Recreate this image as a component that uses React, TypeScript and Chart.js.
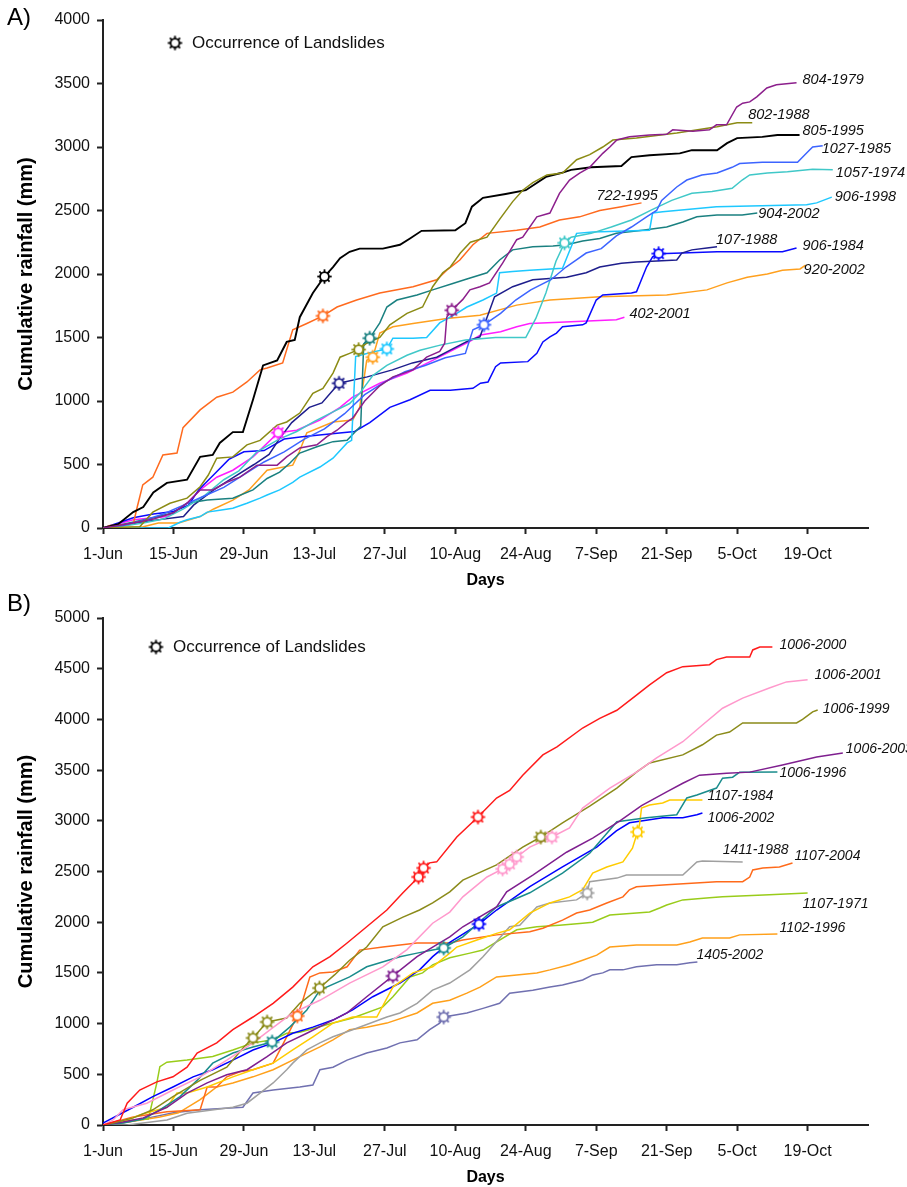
import React, { useEffect, useRef } from 'react';
import { Chart, registerables } from 'chart.js';
Chart.register(...registerables);

// ---------- axis ticks ----------
const tickDays = [0, 14, 28, 42, 56, 70, 84, 98, 112, 126, 140];
const tickLabels = ['1-Jun', '15-Jun', '29-Jun', '13-Jul', '27-Jul', '10-Aug', '24-Aug', '7-Sep', '21-Sep', '5-Oct', '19-Oct'];

// ---------- Panel A data: [day since 1-Jun, cumulative mm] ----------
const a805_1995 = [[0,0],[3,30],[6,125],[8,165],[10,280],[12.7,355],[16.7,380],[19.3,560],[21.8,575],[23.2,670],[25.8,755],[27.8,755],[29.8,1010],[31.8,1280],[34.6,1320],[36.5,1465],[38.1,1480],[39.1,1660],[41.7,1850],[44,1980],[45.7,2055],[47.1,2125],[49,2175],[51,2200],[55.6,2200],[59,2230],[61,2280],[63.3,2340],[70,2345],[72,2400],[73.3,2530],[75.5,2600],[80,2630],[84,2660],[88,2765],[91,2795],[93,2820],[97,2840],[103,2850],[105,2920],[108.6,2935],[114.6,2950],[117,2975],[122,2975],[124,3030],[126,3070],[131,3080],[134,3095],[138.4,3095]];
const a722_1995 = [[0,0],[1.4,20],[6,30],[6.8,165],[7.9,340],[9.9,400],[11.9,575],[14.7,590],[15.9,790],[19.3,930],[22.6,1030],[25.8,1070],[28.6,1150],[31.2,1245],[32.6,1260],[35.7,1300],[37.7,1560],[40.5,1610],[43.7,1670],[46.5,1740],[50.4,1795],[55,1850],[61.6,1900],[66.3,1955],[68.3,2030],[70.9,2110],[73.5,2230],[76.3,2320],[82.2,2345],[86.8,2370],[90.7,2425],[94.7,2450],[98.7,2500],[103,2530],[107,2560]];
const a802_1988 = [[0,0],[7.3,10],[9.9,125],[13.3,195],[16.7,235],[19.3,325],[20.9,415],[22.6,550],[25.8,560],[28.6,655],[31.2,690],[34.6,810],[36.5,835],[39.1,905],[41.7,1060],[43.7,1100],[45.7,1220],[47.1,1345],[49,1375],[50.8,1405],[52.4,1455],[55,1500],[57,1600],[60.4,1690],[63.5,1740],[65.5,1900],[67.5,2010],[69,2055],[71,2165],[73,2250],[76.3,2290],[78.8,2430],[81.4,2570],[83.4,2660],[85.4,2720],[88.2,2780],[91.3,2795],[94.1,2900],[96.7,2940],[99.3,3000],[101.3,3055],[106,3070],[114,3110],[122,3160],[126,3190],[129,3190]];
const a804_1979 = [[0,0],[3,20],[6,40],[10,70],[14,120],[16.7,195],[19.3,300],[21.8,300],[24.6,360],[27.2,400],[30.6,495],[34.6,495],[36.5,560],[39.1,630],[42.5,655],[44.5,720],[46.5,770],[48.5,835],[49.6,865],[52,1000],[55,1120],[57.6,1190],[61.6,1245],[64.3,1345],[66.9,1390],[67.9,1455],[68.3,1660],[69.3,1715],[71.5,1800],[72.9,1875],[74.9,1900],[76.8,1930],[79.4,2085],[82.2,2270],[83.4,2290],[86.2,2450],[88.8,2480],[90.7,2635],[92.7,2740],[94.7,2795],[96.7,2840],[99.3,2950],[100.7,3000],[102.1,3055],[104.6,3080],[108.6,3095],[112,3100],[113.2,3135],[117.2,3125],[120.5,3135],[121.9,3175],[123.9,3175],[125.9,3315],[127.1,3345],[128.5,3355],[129.9,3395],[131.9,3465],[133.8,3490],[137.8,3505]];
const a904_2002 = [[0,0],[4,30],[10,80],[14,120],[16.7,195],[20.7,220],[25.8,235],[29.8,300],[32.6,390],[35.1,440],[37.1,510],[39.1,590],[42.5,640],[45.7,680],[48.5,690],[50.4,770],[51.2,800],[51.8,1450],[53,1495],[55,1615],[56.4,1740],[58.4,1795],[62.4,1835],[65.5,1875],[69.5,1925],[72.3,1960],[76.3,2010],[78.8,2110],[81.4,2190],[85.4,2215],[89.4,2220],[92.1,2230],[95.3,2260],[98.7,2280],[102,2320],[107.2,2345],[112,2370],[115.2,2410],[118,2450],[122,2465],[127,2465],[130,2480]];
const a906_1998 = [[0,0],[13,0],[15.3,45],[16.7,65],[19.3,90],[20.7,125],[23.2,140],[25.8,155],[28.6,195],[31.2,235],[32.6,260],[35.1,300],[37.7,360],[39.1,400],[43.1,480],[45.7,550],[48.5,670],[49.4,690],[50.2,1350],[53,1380],[56.4,1410],[57.6,1495],[61.6,1495],[64.3,1500],[66.9,1615],[70.3,1690],[72.3,1740],[75.5,1795],[78.2,1850],[78.8,2010],[81.4,2020],[84.8,2030],[91.3,2045],[94.1,2320],[97.3,2330],[108.6,2345],[109.2,2480],[111.2,2490],[121.9,2530],[139.8,2545],[141.8,2560],[144.8,2605]];
const a1057_1974 = [[0,0],[4,15],[8,40],[12,70],[16,150],[20,250],[24,380],[27,450],[30.6,600],[35,700],[38.5,760],[42,840],[46,920],[49,980],[51,1060],[53.6,1200],[56.4,1280],[60.4,1360],[63,1400],[67,1440],[72,1480],[78,1500],[84,1500],[86,1650],[88,1850],[90,2100],[91.7,2245],[93,2290],[97,2320],[101,2370],[105,2425],[109,2505],[113,2580],[117,2635],[121,2650],[125,2675],[127,2740],[128.5,2780],[132,2795],[136,2805],[141,2825],[145,2820]];
const a1027_1985 = [[0,0],[4,20],[8,60],[12,110],[16,180],[20,250],[24,320],[28,420],[32,520],[36,600],[40,700],[44,780],[48,900],[52,1050],[56,1150],[60,1230],[64,1280],[68,1340],[72,1375],[73.5,1560],[75.7,1600],[79,1690],[82,1795],[85,1875],[89,1955],[92,2055],[94,2110],[96,2165],[99,2200],[102,2300],[105,2370],[108,2450],[110,2500],[111,2580],[114,2685],[116,2740],[119,2780],[122,2795],[125,2840],[126.5,2870],[131,2880],[138,2880],[140,2960],[141,3000],[143,3010]];
const a906_1984 = [[0,0],[3,40],[6,80],[10,110],[14,130],[17,180],[19,300],[22,420],[25,540],[28,600],[32,610],[36,700],[40,720],[45,740],[50,760],[53,830],[57,950],[61,1010],[65,1085],[69,1085],[73.5,1100],[75,1140],[76.5,1150],[78,1270],[79,1300],[84.4,1310],[86.2,1375],[87.4,1465],[88.8,1505],[90.1,1535],[91.3,1585],[95.3,1600],[96,1615],[98,1795],[99.3,1835],[105,1850],[106,1860],[108,2055],[109.2,2135],[110.4,2160],[115,2165],[122,2175],[135,2175],[137.8,2205]];
const a107_1988 = [[0,0],[5,30],[10,60],[16,90],[18,180],[22,300],[26,400],[30,500],[33,580],[35,700],[37.5,830],[41,950],[43.5,985],[46.9,1140],[52.5,1190],[57.5,1245],[61.5,1300],[66.3,1345],[69,1400],[72.9,1480],[74.9,1505],[77.8,1820],[81.4,1900],[85.4,1955],[92.1,1975],[96,2010],[98.7,2055],[103,2085],[106,2095],[114,2110],[115,2165],[117,2190],[120,2205],[122,2215]];
const a920_2002 = [[0,0],[8,10],[11,40],[15,40],[19.3,90],[22,150],[25.8,220],[29,300],[32.6,455],[37.7,495],[39,600],[40.5,750],[45.7,835],[49.6,850],[51,950],[52.4,1320],[53.6,1345],[55,1535],[57.6,1585],[61.6,1610],[68.3,1650],[74.9,1675],[82.2,1755],[88.8,1795],[98.7,1820],[112,1835],[120,1875],[124,1930],[128,1975],[132,2000],[135,2030],[138.5,2040],[139.6,2070]];
const a402_2001 = [[0,0],[6,65],[12.7,90],[16.7,195],[19.3,300],[22.6,400],[25.8,455],[29.8,560],[34.8,750],[38.5,770],[43.1,850],[47.1,950],[49.6,1030],[55,1140],[60.4,1220],[65.5,1320],[69.5,1400],[72.9,1470],[75,1520],[79,1545],[82.2,1585],[84.8,1610],[90.7,1620],[102,1640],[103.6,1660]];

// landslide occurrences, panel A
const slA_805_1995 = [[44,1980]];
const slA_722_1995 = [[43.7,1670]];
const slA_802_1988 = [[50.8,1405]];
const slA_804_1979 = [[69.3,1715]];
const slA_904_2002 = [[53,1495]];
const slA_906_1998 = [[56.4,1410]];
const slA_1057_1974 = [[91.7,2245]];
const slA_1027_1985 = [[75.7,1600]];
const slA_906_1984 = [[110.4,2160]];
const slA_107_1988 = [[46.9,1140]];
const slA_920_2002 = [[53.6,1345]];
const slA_402_2001 = [[34.8,750]];

// ---------- Panel B data ----------
const b1006_2000 = [[0,0],[3.4,50],[4.8,215],[7.3,345],[10.7,425],[13.9,475],[16.7,570],[18.7,710],[22.6,810],[25.8,940],[29.8,1065],[33.8,1200],[37.7,1360],[41.7,1560],[45.1,1660],[48.5,1795],[52.4,1955],[56.4,2120],[59.6,2290],[62.7,2446],[63.7,2535],[64.9,2585],[66.3,2595],[70.3,2840],[74.5,3037],[78.2,3225],[80.8,3300],[83.4,3450],[87.4,3650],[90.2,3730],[95.3,3915],[98.7,4010],[102.1,4090],[106,4240],[108.6,4340],[112,4460],[115.2,4520],[120.5,4540],[121.9,4590],[123.9,4615],[128.5,4615],[129.1,4685],[130.5,4714],[133,4714]];
const b1006_2001 = [[0,0],[2,50],[4,150],[8.7,215],[13.9,345],[19.3,475],[24.6,640],[29.8,810],[33.5,950],[37.7,1105],[43.1,1230],[49,1400],[55.6,1560],[60.4,1730],[65.5,1990],[68.9,2100],[71.5,2250],[76.3,2446],[79.4,2525],[80.8,2574],[82.2,2643],[84.8,2740],[89.2,2840],[92.7,2930],[95.3,3126],[100.7,3323],[106,3480],[110,3620],[115.2,3780],[119.1,3945],[123.1,4110],[127.1,4210],[132.4,4310],[135.8,4370],[140,4390]];
const b1006_1999 = [[0,0],[2,20],[6,70],[9.9,150],[13.9,280],[19.3,440],[24.6,570],[28,770],[29.8,858],[32.6,1016],[36.5,1055],[39.1,1200],[43,1351],[46,1480],[49,1625],[52.4,1755],[55.6,1955],[59.6,2050],[62.9,2120],[65.5,2190],[68.9,2300],[71.5,2415],[78.2,2565],[83.4,2740],[87,2840],[91.3,2980],[96.7,3145],[102.1,3323],[106,3480],[108.6,3570],[115.2,3650],[119.1,3750],[121.9,3845],[124.5,3875],[127.1,3965],[137.8,3965],[139,4000],[141,4075],[142,4093]];
const b1006_2003 = [[0,0],[4,30],[8,70],[12.7,175],[16.7,315],[20.7,415],[24.6,495],[28.6,545],[32.6,675],[36.5,810],[40.5,905],[44.5,1005],[48.5,1105],[52.4,1265],[57.6,1470],[62.4,1660],[65.5,1755],[68.9,1855],[71.5,1955],[78.2,2150],[80.2,2300],[85.4,2465],[92.1,2690],[97.3,2830],[102.7,3000],[107,3150],[112,3285],[115.2,3370],[118.5,3450],[123.9,3470],[128.5,3480],[135,3550],[141.8,3630],[147,3668]];
const b1006_1996 = [[0,0],[4,20],[8,60],[11.3,150],[15.3,280],[18.7,440],[21.8,610],[25.8,710],[29.8,770],[33.6,819],[37.1,965],[40.5,1135],[43.1,1330],[49,1460],[52.4,1560],[59,1660],[62.4,1695],[65.5,1725],[67.7,1746],[71.5,1855],[78.2,2150],[84.8,2290],[91.3,2485],[96.7,2680],[102.1,2990],[108,3030],[114,3060],[116,3225],[118,3255],[121.9,3323],[123.1,3420],[125.1,3430],[126.5,3480],[134,3481]];
const b1107_1984 = [[0,0],[4,30],[7.3,100],[12.7,175],[14.7,315],[16.7,315],[20.7,375],[25.8,475],[29.8,545],[33.8,610],[37.7,740],[41.7,870],[45.7,1005],[49.6,1065],[54.4,1065],[57.6,1360],[61.6,1500],[65.5,1560],[68.9,1695],[70.3,1755],[74.3,1825],[78.2,1890],[80.8,1925],[84.8,2090],[88.8,2190],[92.7,2250],[95.3,2320],[97.3,2485],[100.1,2545],[103.3,2595],[105.2,2730],[106.2,2890],[106.6,2960],[107,3125],[108.6,3155],[111.2,3175],[112.6,3205],[119.1,3205]];
const b1006_2002 = [[0,20],[6,175],[9.9,280],[13.9,375],[17.9,475],[21.8,545],[25.8,640],[29.8,740],[33.8,810],[37.7,905],[41.7,965],[45.7,1035],[49.6,1135],[53.6,1265],[59,1400],[62.9,1530],[65.5,1660],[68.9,1800],[74.7,1982],[78.2,2120],[84.8,2350],[91.3,2545],[98.1,2740],[102,2900],[104.6,2980],[108.6,3010],[111.2,3030],[115.2,3030],[118,3060],[119.1,3077]];
const b1411_1988 = [[0,0],[4.8,0],[12.7,50],[16.7,115],[25.8,175],[28.6,215],[31.2,315],[33.8,415],[36.5,545],[37.7,610],[40.5,740],[43.1,810],[45.7,870],[49.6,940],[56.4,1065],[59,1105],[62.4,1200],[65.5,1330],[68.9,1400],[72.9,1530],[75.5,1660],[80.8,1955],[82.8,1970],[86.2,2150],[88.8,2190],[94.1,2220],[96.2,2288],[96.7,2400],[102.1,2435],[104,2465],[115.2,2465],[118,2594],[119.1,2604],[127.1,2594]];
const b1107_2004 = [[0,0],[6,80],[12.7,130],[19.3,150],[20.7,375],[22.6,375],[24.6,475],[27.2,525],[29.8,545],[33.8,610],[36.5,870],[38.6,1075],[39.7,1230],[41.1,1460],[43.1,1500],[45.7,1510],[48.5,1560],[51,1725],[55.6,1755],[62.4,1795],[68.9,1795],[71.5,1825],[78.2,1875],[84.8,1905],[87.4,1940],[91.3,2020],[94.1,2090],[96.7,2120],[100.1,2190],[103.3,2250],[104.6,2320],[106,2350],[112,2370],[121.9,2400],[127.1,2400],[128.5,2445],[129.1,2515],[131.1,2535],[134.4,2545],[137,2584]];
const b1107_1971 = [[0,0],[6,50],[9,60],[10.7,415],[11.3,575],[12.7,620],[16.7,640],[21.8,675],[25.8,740],[29.8,810],[33.8,840],[36.5,905],[39.1,915],[45.7,1005],[49.6,1055],[55.6,1165],[57.6,1265],[61,1460],[63.5,1500],[65.5,1580],[68.9,1650],[72.9,1695],[75.5,1725],[82.2,1925],[86.2,1955],[90.7,1970],[95.3,1990],[97.3,2000],[100.7,2070],[106,2090],[108.6,2100],[110.6,2140],[112,2170],[115.2,2220],[120.5,2240],[123.1,2250],[132.4,2270],[140,2288]];
const b1102_1996 = [[0,0],[5,30],[11.3,80],[15,120],[19.3,250],[22.6,375],[25.8,415],[29.8,475],[33.8,545],[39.1,675],[43.1,770],[45.7,840],[49,940],[52.4,965],[56.4,1005],[62.4,1105],[65.5,1200],[68.9,1230],[72.3,1300],[74.9,1360],[78.2,1460],[82.2,1480],[86.2,1500],[88.8,1530],[92.7,1580],[95.3,1625],[98.1,1675],[100.7,1755],[106,1775],[114,1775],[116.6,1805],[119.1,1845],[124.5,1845],[126.5,1875],[134,1884]];
const b1405_2002 = [[0,0],[5,30],[10,80],[14,120],[19.3,150],[27.8,175],[29.8,315],[33.8,345],[39.1,375],[41.7,395],[43.1,545],[45.7,570],[48.5,640],[52.4,710],[56.4,760],[59,810],[62.4,840],[64.9,940],[66.9,1005],[67.7,1065],[72.3,1105],[75.5,1150],[78.8,1200],[80.8,1300],[85.4,1330],[88.8,1360],[91.3,1380],[95.3,1430],[97.3,1480],[99.3,1500],[100.7,1530],[103.3,1530],[106,1560],[110,1580],[114,1580],[116.6,1600],[118.1,1607]];

// landslide occurrences, panel B
const slB_1006_2000 = [[62.7,2446],[63.7,2535],[74.5,3037]];
const slB_1006_2001 = [[79.4,2525],[80.8,2574],[82.2,2643],[89.2,2840]];
const slB_1006_1999 = [[29.8,858],[32.6,1016],[43,1351],[87,2840]];
const slB_1006_2003 = [[57.6,1470]];
const slB_1006_1996 = [[33.6,819],[67.7,1746]];
const slB_1107_1984 = [[106.2,2890]];
const slB_1006_2002 = [[74.7,1982]];
const slB_1411_1988 = [[96.2,2288]];
const slB_1107_2004 = [[38.6,1075]];
const slB_1107_1971: number[][] = [];
const slB_1102_1996: number[][] = [];
const slB_1405_2002 = [[67.7,1065]];

// ---------- series styling (colour, label offset in px) ----------
const seriesA = [
  { name: '804-1979', data: a804_1979, slides: slA_804_1979, color: '#8c1f8c', dx: 6, dy: -3 },
  { name: '802-1988', data: a802_1988, slides: slA_802_1988, color: '#8b8b14', dx: -4, dy: -8 },
  { name: '805-1995', data: a805_1995, slides: slA_805_1995, color: '#000000', dx: 3, dy: -4, width: 1.9 },
  { name: '1027-1985', data: a1027_1985, slides: slA_1027_1985, color: '#3c64ff', dx: -1, dy: 3 },
  { name: '1057-1974', data: a1057_1974, slides: slA_1057_1974, color: '#40c8c8', dx: 3, dy: 3 },
  { name: '722-1995', data: a722_1995, slides: slA_722_1995, color: '#ff6a1e', dx: -45, dy: -7 },
  { name: '906-1998', data: a906_1998, slides: slA_906_1998, color: '#1ec8ff', dx: 3, dy: 0 },
  { name: '904-2002', data: a904_2002, slides: slA_904_2002, color: '#1a8080', dx: 1, dy: 1 },
  { name: '107-1988', data: a107_1988, slides: slA_107_1988, color: '#1e1e8c', dx: -1, dy: -7 },
  { name: '906-1984', data: a906_1984, slides: slA_906_1984, color: '#0a0aff', dx: 6, dy: -2 },
  { name: '920-2002', data: a920_2002, slides: slA_920_2002, color: '#ffa01e', dx: -2, dy: 5 },
  { name: '402-2001', data: a402_2001, slides: slA_402_2001, color: '#ff1eff', dx: 5, dy: -3 },
];

const seriesB = [
  { name: '1006-2000', data: b1006_2000, slides: slB_1006_2000, color: '#ff1a1a', dx: 7, dy: -2 },
  { name: '1006-2001', data: b1006_2001, slides: slB_1006_2001, color: '#ff99cc', dx: 7, dy: -5 },
  { name: '1006-1999', data: b1006_1999, slides: slB_1006_1999, color: '#8b8b1a', dx: 5, dy: -1 },
  { name: '1006-2003', data: b1006_2003, slides: slB_1006_2003, color: '#7f1f8f', dx: 3, dy: -4 },
  { name: '1006-1996', data: b1006_1996, slides: slB_1006_1996, color: '#1a8c8c', dx: 2, dy: 1 },
  { name: '1107-1984', data: b1107_1984, slides: slB_1107_1984, color: '#ffcc00', dx: 5, dy: -4 },
  { name: '1006-2002', data: b1006_2002, slides: slB_1006_2002, color: '#0000ff', dx: 5, dy: 5 },
  { name: '1411-1988', data: b1411_1988, slides: slB_1411_1988, color: '#a0a0a0', dx: -20, dy: -12 },
  { name: '1107-2004', data: b1107_2004, slides: slB_1107_2004, color: '#ff6a1a', dx: 2, dy: -7 },
  { name: '1107-1971', data: b1107_1971, slides: slB_1107_1971, color: '#99cc1a', dx: -5, dy: 11 },
  { name: '1102-1996', data: b1102_1996, slides: slB_1102_1996, color: '#ffa01a', dx: 2, dy: -6 },
  { name: '1405-2002', data: b1405_2002, slides: slB_1405_2002, color: '#7070b0', dx: -1, dy: -7 },
];

const FONT = "'Liberation Sans', Arial, Helvetica, sans-serif";

function makeMarker(color: string): HTMLCanvasElement {
  const c = document.createElement('canvas');
  const s = 17;
  c.width = s; c.height = s;
  const g = c.getContext('2d')!;
  g.translate(s / 2, s / 2);
  g.strokeStyle = color;
  g.lineWidth = 1.8;
  for (let i = 0; i < 8; i++) {
    const a = (i * Math.PI) / 4;
    g.beginPath();
    g.moveTo(Math.cos(a) * 4.2, Math.sin(a) * 4.2);
    g.lineTo(Math.cos(a) * 7.2, Math.sin(a) * 7.2);
    g.stroke();
  }
  g.beginPath();
  g.arc(0, 0, 4.4, 0, Math.PI * 2);
  g.fillStyle = '#ffffff';
  g.fill();
  g.stroke();
  return c;
}

type PanelCfg = {
  series: any[];
  ymax: number;
  top: number;
  xh: number;
  letter: string;
  letterY: number;
  legendX: number;
  legendY: number;
  labelSize: number;
  daysPad: number;
};

function buildChart(canvas: HTMLCanvasElement, cfg: PanelCfg) {
  const datasets: any[] = [];
  cfg.series.forEach((s) => {
    datasets.push({
      label: s.name,
      data: s.data.map((p: number[]) => ({ x: p[0], y: p[1] })),
      borderColor: s.color,
      backgroundColor: s.color,
      borderWidth: s.width || 1.5,
      pointRadius: 0,
      tension: 0,
      fill: false,
      order: 2,
      _seriesLabel: s,
    });
  });
  cfg.series.forEach((s) => {
    if (!s.slides.length) return;
    datasets.push({
      label: s.name + ' landslides',
      data: s.slides.map((p: number[]) => ({ x: p[0], y: p[1] })),
      showLine: false,
      pointStyle: makeMarker(s.color),
      pointRadius: 6,
      borderColor: s.color,
      order: 0,
    });
  });

  const legendMarker = makeMarker('#000000');

  const textPlugin = {
    id: 'panelText',
    afterDatasetsDraw(chart: any) {
      const ctx = chart.ctx;
      ctx.save();
      ctx.font = `italic ${cfg.labelSize}px ${FONT}`;
      ctx.fillStyle = '#111';
      ctx.textAlign = 'left';
      ctx.textBaseline = 'middle';
      chart.data.datasets.forEach((ds: any, i: number) => {
        const s = ds._seriesLabel;
        if (!s) return;
        const meta = chart.getDatasetMeta(i);
        const last = meta.data[meta.data.length - 1];
        if (!last) return;
        ctx.fillText(s.name, last.x + s.dx, last.y + s.dy);
      });
      ctx.font = `24px ${FONT}`;
      ctx.fillStyle = '#000';
      ctx.fillText(cfg.letter, 7, cfg.letterY);
      ctx.drawImage(legendMarker, cfg.legendX - legendMarker.width / 2, cfg.legendY - legendMarker.height / 2);
      ctx.font = `17px ${FONT}`;
      ctx.fillStyle = '#111';
      ctx.fillText('Occurrence of Landslides', cfg.legendX + 17, cfg.legendY);
      ctx.restore();
    },
  };

  return new Chart(canvas, {
    type: 'line',
    data: { datasets },
    plugins: [textPlugin],
    options: {
      responsive: false,
      animation: false,
      devicePixelRatio: 1,
      layout: { padding: { top: cfg.top, right: 39, left: 0, bottom: 0 } },
      plugins: { legend: { display: false }, tooltip: { enabled: false } },
      scales: {
        x: {
          type: 'linear',
          min: 0,
          max: 152,
          afterBuildTicks: (s: any) => {
            s.ticks = tickDays.map((v) => ({ value: v }));
          },
          afterFit: (s: any) => {
            s.height = cfg.xh;
          },
          ticks: {
            autoSkip: false,
            maxRotation: 0,
            padding: 11,
            color: '#111',
            font: { family: FONT, size: 16 },
            callback: (v: any) => {
              const i = tickDays.indexOf(Number(v));
              return i >= 0 ? tickLabels[i] : '';
            },
          },
          grid: { display: true, drawOnChartArea: false, drawTicks: true, tickLength: 6, tickColor: '#222', tickWidth: 2 },
          border: { display: true, color: '#222', width: 2 },
          title: {
            display: true,
            text: 'Days',
            color: '#000',
            font: { family: FONT, size: 16, weight: 'bold' },
            padding: { top: 0, bottom: cfg.daysPad },
          },
        },
        y: {
          type: 'linear',
          min: 0,
          max: cfg.ymax,
          afterFit: (s: any) => {
            s.width = 103;
          },
          ticks: {
            stepSize: 500,
            padding: 7,
            color: '#111',
            font: { family: FONT, size: 16 },
            callback: (v: any) => String(v),
          },
          grid: { display: true, drawOnChartArea: false, drawTicks: true, tickLength: 6, tickColor: '#222', tickWidth: 2 },
          border: { display: true, color: '#222', width: 2 },
          title: {
            display: true,
            text: 'Cumulative rainfall (mm)',
            color: '#000',
            font: { family: FONT, size: 20, weight: 'bold' },
            padding: { top: 14, bottom: 0 },
          },
        },
      },
    } as any,
  });
}

export default function App() {
  const refA = useRef<HTMLCanvasElement>(null);
  const refB = useRef<HTMLCanvasElement>(null);

  useEffect(() => {
    const cA = buildChart(refA.current!, {
      series: seriesA, ymax: 4000, top: 20, xh: 64, letter: 'A)', letterY: 18,
      legendX: 175, legendY: 43, labelSize: 14.5, daysPad: 2,
    });
    const cB = buildChart(refB.current!, {
      series: seriesB, ymax: 5000, top: 26, xh: 62, letter: 'B)', letterY: 12,
      legendX: 156, legendY: 55, labelSize: 14, daysPad: 0,
    });
    return () => {
      cA.destroy();
      cB.destroy();
    };
  }, []);

  return (
    <div style={{ position: 'absolute', left: 0, top: 0, width: 907, height: 1187, background: '#fff' }}>
      <canvas ref={refA} width={907} height={592} style={{ display: 'block', width: 907, height: 592 }} />
      <canvas ref={refB} width={907} height={595} style={{ display: 'block', width: 907, height: 595 }} />
    </div>
  );
}
